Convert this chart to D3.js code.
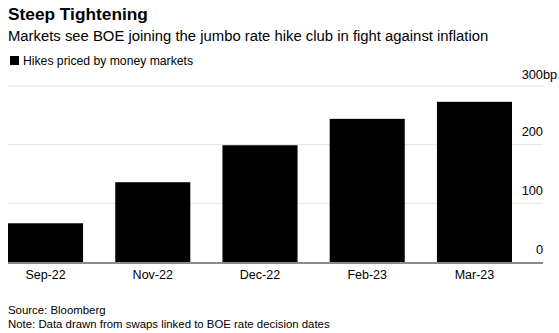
<!DOCTYPE html>
<html>
<head>
<meta charset="utf-8">
<script src="https://cdn.jsdelivr.net/npm/d3@7"></script>
<style>
  body { margin: 0; background: #fff; }
  text { font-family: "Liberation Sans", Arial, sans-serif; fill: #000; }
</style>
</head>
<body>
<svg id="chart" width="559" height="333"></svg>
<script>
const months = ['Sep-22', 'Nov-22', 'Dec-22', 'Feb-23', 'Mar-23'];
const hikes = [66, 136, 199, 244, 273];
const yTicks = [0, 100, 200, 300];

const plotLeft = 8;     // first bar edge
const barsRight = 512;
const gridRight = 543;
const plotTop = 86;
const plotBottom = 262;

const svg = d3.select('#chart');

// titles
svg.append('text')
  .attr('x', 8).attr('y', 20)
  .attr('font-size', 17.3).attr('font-weight', 'bold')
  .text('Steep Tightening');
svg.append('text')
  .attr('x', 8).attr('y', 41)
  .attr('font-size', 14.85)
  .text('Markets see BOE joining the jumbo rate hike club in fight against inflation');

// legend
svg.append('rect')
  .attr('x', 10).attr('y', 56).attr('width', 9).attr('height', 9)
  .attr('fill', '#000');
svg.append('text')
  .attr('x', 23).attr('y', 65)
  .attr('font-size', 12.2)
  .text('Hikes priced by money markets');

const x = d3.scaleBand()
  .domain(months)
  .range([plotLeft, barsRight])
  .paddingInner(0.3)
  .paddingOuter(0);

const y = d3.scaleLinear()
  .domain([0, 300])
  .range([plotBottom, plotTop]);

// gridlines
svg.append('g')
  .selectAll('line')
  .data(yTicks.filter(d => d > 0))
  .enter()
  .append('line')
  .attr('x1', plotLeft).attr('x2', gridRight)
  .attr('y1', d => y(d)).attr('y2', d => y(d))
  .attr('stroke', '#e3e3e3')
  .attr('stroke-width', 1);

// y labels: number right-aligned to grid end, unit hangs past it
const yLab = svg.append('g');
yLab.selectAll('text.num')
  .data(yTicks)
  .enter()
  .append('text')
  .attr('class', 'num')
  .attr('x', gridRight)
  .attr('y', d => y(d) - (d === 300 ? 7 : 8.5))
  .attr('text-anchor', 'end')
  .attr('font-size', 12.8)
  .text(d => d);
yLab.append('text')
  .attr('x', gridRight)
  .attr('y', y(300) - 7)
  .attr('font-size', 12.8)
  .text('bp');

// bars
svg.append('g')
  .selectAll('rect')
  .data(hikes)
  .enter()
  .append('rect')
  .attr('x', (d, i) => x(months[i]))
  .attr('y', d => y(d))
  .attr('width', x.bandwidth())
  .attr('height', d => y(0) - y(d))
  .attr('fill', '#000');

// baseline
svg.append('line')
  .attr('x1', plotLeft).attr('x2', gridRight)
  .attr('y1', y(0) + 1).attr('y2', y(0) + 1)
  .attr('stroke', '#8a8a8a')
  .attr('stroke-width', 2);

// x labels
svg.append('g')
  .selectAll('text')
  .data(months)
  .enter()
  .append('text')
  .attr('x', d => x(d) + x.bandwidth() / 2)
  .attr('y', 278.5)
  .attr('text-anchor', 'middle')
  .attr('font-size', 12.5)
  .text(d => d);

// footer
svg.append('text')
  .attr('x', 8).attr('y', 314)
  .attr('font-size', 11.4)
  .text('Source: Bloomberg');
svg.append('text')
  .attr('x', 8).attr('y', 327.5)
  .attr('font-size', 11.4)
  .text('Note: Data drawn from swaps linked to BOE rate decision dates');
</script>
</body>
</html>
